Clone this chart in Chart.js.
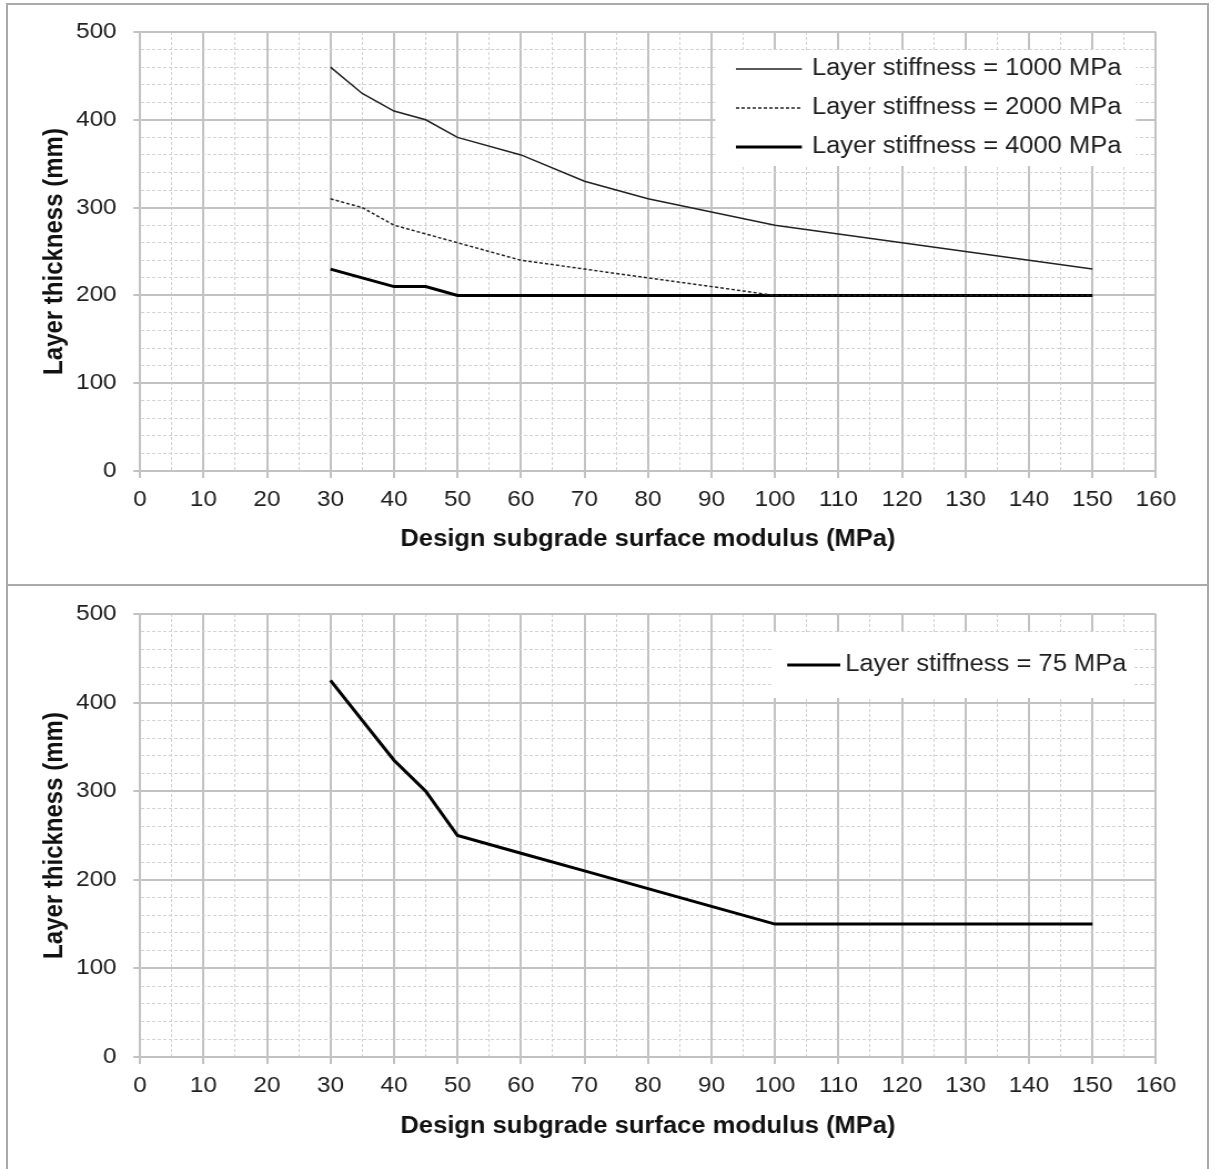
<!DOCTYPE html>
<html>
<head>
<meta charset="utf-8">
<script src="https://cdn.jsdelivr.net/npm/chart.js@4.4.0/dist/chart.umd.min.js"></script>
<style>
  html, body { margin: 0; padding: 0; background: #fff; width: 1215px; height: 1169px; overflow: hidden; }
  .frame { position: absolute; border: 2px solid #aaa; box-sizing: border-box; }
  /* the source figure is stretched a little horizontally */
  .stretch { position: absolute; left: 0; width: 1095px; transform: scaleX(1.11); transform-origin: 0 0; }
  canvas { display: block; }
</style>
</head>
<body>
<div class="frame" style="left:6px;top:3px;width:1203px;height:583px"></div>
<div class="frame" style="left:6px;top:584px;width:1203px;height:600px"></div>
<div class="stretch" style="top:0;height:584px"><canvas id="topChart" width="1095" height="584"></canvas></div>
<div class="stretch" style="top:584px;height:585px"><canvas id="bottomChart" width="1095" height="585"></canvas></div>

<script>
// design subgrade surface modulus (MPa)
const modulus = [30, 35, 40, 45, 50, 60, 70, 80, 90, 100, 110, 120, 130, 140, 150]
// layer thickness (mm)
const thick1000 = [460, 430, 410, 400, 380, 360, 330, 310, 295, 280, 270, 260, 250, 240, 230]
const thick2000 = [310, 300, 280, 270, 260, 240, 230, 220, 210, 200, 200, 200, 200, 200, 200]
const thick4000 = [230, 220, 210, 210, 200, 200, 200, 200, 200, 200, 200, 200, 200, 200, 200]
const thick75 = [425, 380, 335, 300, 250, 230, 210, 190, 170, 150, 150, 150, 150, 150, 150]

const xTitle = 'Design subgrade surface modulus (MPa)'
const yTitle = 'Layer thickness (mm)'

const MAJOR = '#c2c2c2'
const MINOR = '#d2d2d2'
const FONT = "'Liberation Sans', Arial, sans-serif"

Chart.defaults.font.family = FONT
Chart.defaults.color = '#1e1e1e'

function points(ys) {
  return modulus.map((x, i) => ({ x: x, y: ys[i] }))
}

function isMajor(c, step) {
  return c.tick && Math.round(c.tick.value) % step === 0
}

// legend drawn inside the plot area on a white box
const boxLegend = {
  id: 'boxLegend',
  beforeDatasetsDraw(chart, args, o) {
    const { ctx, chartArea } = chart
    const left = chartArea.right - o.right - o.width
    const top = chartArea.top + o.top
    ctx.save()
    ctx.fillStyle = '#fff'
    ctx.fillRect(left, top, o.width, o.height)
    chart.data.datasets.forEach((ds, i) => {
      const y = top + o.firstRow + i * o.rowGap
      ctx.beginPath()
      ctx.strokeStyle = ds.borderColor
      ctx.lineWidth = ds.borderWidth
      ctx.setLineDash(ds.borderDash || [])
      ctx.moveTo(left + o.lineStart, y)
      ctx.lineTo(left + o.lineEnd, y)
      ctx.stroke()
      ctx.setLineDash([])
      ctx.fillStyle = '#1e1e1e'
      ctx.font = '23px ' + FONT
      ctx.textBaseline = 'middle'
      ctx.textAlign = 'left'
      ctx.fillText(ds.label, left + o.textX, y)
    })
    ctx.restore()
  }
}

function makeOptions(padTop, xHeight, titlePad, legend) {
  return {
    responsive: false,
    animation: false,
    layout: { padding: { top: padTop, right: 53.6, left: 0, bottom: 0 } },
    plugins: { legend: { display: false }, tooltip: { enabled: false }, boxLegend: legend },
    elements: { point: { radius: 0 }, line: { tension: 0 } },
    scales: {
      x: {
        type: 'linear',
        min: 0,
        max: 160,
        afterFit: (s) => { s.height = xHeight },
        ticks: {
          stepSize: 5,
          autoSkip: false,
          maxRotation: 0,
          padding: 9,
          font: { size: 22 },
          callback: (v) => (v % 10 === 0 ? String(v) : '')
        },
        grid: {
          color: (c) => (isMajor(c, 10) ? MAJOR : MINOR),
          lineWidth: (c) => (isMajor(c, 10) ? 2 : 1),
          tickLength: 7,
          tickWidth: 2,
          tickColor: (c) => (isMajor(c, 10) ? MAJOR : 'rgba(0,0,0,0)')
        },
        border: { display: true, color: MAJOR, width: 2, dash: (c) => (c.tick && !isMajor(c, 10) ? [3, 2] : []) },
        title: {
          display: true,
          text: xTitle,
          color: '#111',
          font: { size: 23, weight: 'bold' },
          padding: { top: 0, bottom: titlePad }
        }
      },
      y: {
        min: 0,
        max: 500,
        afterFit: (s) => { s.width = 126.1 },
        ticks: {
          stepSize: 20,
          autoSkip: false,
          padding: 15,
          font: { size: 22 },
          callback: (v) => (v % 100 === 0 ? String(v) : '')
        },
        grid: {
          color: (c) => (isMajor(c, 100) ? MAJOR : MINOR),
          lineWidth: (c) => (isMajor(c, 100) ? 2 : 1),
          tickLength: 6,
          tickWidth: 2,
          tickColor: (c) => (isMajor(c, 100) ? MAJOR : 'rgba(0,0,0,0)')
        },
        border: { display: true, color: MAJOR, width: 2, dash: (c) => (c.tick && !isMajor(c, 100) ? [3, 2] : []) },
        title: {
          display: true,
          text: yTitle,
          color: '#111',
          font: { size: 24, weight: 'bold' },
          padding: { top: 35, bottom: 0 }
        }
      }
    }
  }
}

new Chart(document.getElementById('topChart'), {
  type: 'line',
  data: {
    datasets: [
      { label: 'Layer stiffness = 1000 MPa', data: points(thick1000), borderColor: '#222', borderWidth: 1.5 },
      { label: 'Layer stiffness = 2000 MPa', data: points(thick2000), borderColor: '#222', borderWidth: 1.5, borderDash: [3, 2] },
      { label: 'Layer stiffness = 4000 MPa', data: points(thick4000), borderColor: '#000', borderWidth: 3 }
    ]
  },
  options: makeOptions(32, 113, 31, {
    right: 18, top: 18, width: 379, height: 116,
    firstRow: 19, rowGap: 39, lineStart: 18.6, lineEnd: 78, textX: 87
  }),
  plugins: [boxLegend]
})

new Chart(document.getElementById('bottomChart'), {
  type: 'line',
  data: {
    datasets: [
      { label: 'Layer stiffness = 75 MPa', data: points(thick75), borderColor: '#000', borderWidth: 3 }
    ]
  },
  options: makeOptions(30, 112, 29, {
    right: 20.7, top: 18, width: 325, height: 66,
    firstRow: 33, rowGap: 39, lineStart: 13.5, lineEnd: 61.3, textX: 65.8
  }),
  plugins: [boxLegend]
})
</script>
</body>
</html>
